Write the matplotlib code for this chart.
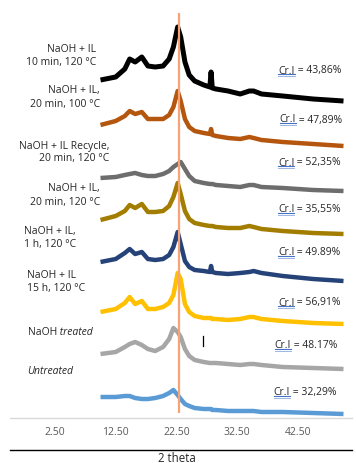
import matplotlib
matplotlib.use("Agg")
import numpy as np
import matplotlib.pyplot as plt
from matplotlib.lines import Line2D

plt.rcParams['font.family'] = ['Open Sans', 'DejaVu Sans']

# 2 theta grid shared by all patterns
two_theta = [10, 12.5, 14, 14.8, 15.7, 16.8, 17.8, 19, 20.3, 21.3, 22, 22.7, 23.2, 23.9,
             24.6, 25.5, 27, 28.0, 28.2, 28.4, 29, 31, 33, 34.5, 35.2, 36.5, 40, 45, 50]

# stacked intensities (a.u., already offset)
naoh_il_10min_120 = [338, 341, 349, 359, 356, 361, 352, 351, 352, 359, 371, 391, 381, 356,
                     343, 337, 333, 331, 346, 330, 329, 327, 324, 327, 327, 324, 322, 319, 317]
naoh_il_20min_100 = [293, 297, 302, 307, 304, 306, 299, 299, 299, 303, 311, 327, 317, 299,
                     291, 287, 285, 284, 289, 283, 282, 280, 279, 281, 280, 278, 276, 274, 272]
naoh_il_recycle = [240, 241, 243, 244, 245, 243, 242, 242, 244, 247, 251, 254, 256, 249,
                   242, 237, 235, 234, 234, 234, 233, 232, 231, 233, 233, 231, 230, 228, 227]
naoh_il_20min_120 = [198, 202, 207, 213, 210, 214, 206, 206, 207, 212, 221, 235, 224, 207,
                     199, 195, 193, 192, 192, 192, 191, 190, 190, 192, 191, 189, 187, 185, 184]
naoh_il_1h_120 = [156, 159, 165, 169, 164, 166, 159, 158, 159, 163, 171, 186, 174, 157,
                  151, 148, 147, 146, 152, 146, 145, 144, 145, 146, 147, 145, 142, 139, 137]
naoh_il_15h_120 = [106, 109, 115, 121, 114, 117, 109, 109, 111, 115, 123, 145, 139, 114,
                   106, 102, 100, 100, 100, 99, 99, 98, 99, 101, 101, 99, 97, 95, 94]
naoh_treated = [64, 66, 71, 74, 76, 73, 69, 67, 71, 79, 90, 86, 81, 69,
                62, 58, 56, 55, 55, 55, 55, 54, 53, 54, 54, 53, 51, 50, 49]
untreated = [21, 21, 22, 22, 20, 19, 19, 20, 22, 25, 28, 23, 19, 14,
             12, 10, 9, 9, 9, 8, 8, 7, 7, 7, 7, 6, 6, 5, 4]

series = [naoh_il_10min_120, naoh_il_20min_100, naoh_il_recycle, naoh_il_20min_120,
          naoh_il_1h_120, naoh_il_15h_120, naoh_treated, untreated]
colors = ['#000000', '#b5560f', '#6d6d6d', '#a27d00', '#254378', '#ffc000', '#a6a6a6', '#5b9bd5']
crystallinity = ['43,86%', '47,89%', '52,35%', '35,55%', '49.89%', '56,91%', '48.17%', '32,29%']

peak_2theta = 22.9
tick_values = [2.5, 12.5, 22.5, 32.5, 42.5]
tick_labels = ['2.50', '12.50', '22.50', '32.50', '42.50']

fs = 7.5

fig = plt.figure(figsize=(3.56, 4.64), dpi=100)
ax = fig.add_axes([10 / 356, 45 / 464, 342 / 356, 419 / 464])

for ys, c in zip(series, colors):
    ax.plot(two_theta, ys, color=c, lw=3.6 if c == '#000000' else 3.2,
            solid_joinstyle='round', solid_capstyle='butt')

ax.vlines(peak_2theta, 5, 405, color='#f5a377', lw=1.6, zorder=5)
ax.plot([26.9, 26.9], [72, 82], color='black', lw=0.9)

ax.set_xlim(-4.9, 51.4)
ax.set_ylim(0, 419)
ax.set_xticks(tick_values)
ax.set_xticklabels(tick_labels, fontsize=fs, color='#595959')
ax.tick_params(axis='x', length=0, pad=6)
ax.set_yticks([])
for s in ['top', 'right', 'left']:
    ax.spines[s].set_visible(False)
ax.spines['bottom'].set_color('#d9d9d9')
ax.spines['bottom'].set_linewidth(1.0)

lab = dict(fontsize=fs, color='#262626', va='center', linespacing=1.25)
ax.text(9.25, 363, 'NaOH + IL\n10 min, 120 \u00b0C', ha='right', multialignment='right', **lab)
ax.text(9.9, 321.5, 'NaOH + IL,\n20 min, 100 \u00b0C', ha='right', multialignment='right', **lab)
ax.text(11.4, 266.5, 'NaOH + IL Recycle,\n20 min, 120 \u00b0C', ha='right', multialignment='right', **lab)
ax.text(9.9, 223.5, 'NaOH + IL,\n20 min, 120 \u00b0C', ha='right', multialignment='right', **lab)
ax.text(-2.6, 181, 'NaOH + IL,\n1 h, 120 \u00b0C', ha='left', **lab)
ax.text(-2.1, 137, 'NaOH + IL\n15 h, 120 \u00b0C', ha='left', **lab)
t_naoh = ax.text(-1.9, 86.5, 'NaOH', ha='left', **lab)
ax.annotate(' treated', xy=(1, 0.5), xycoords=t_naoh, ha='left', va='center',
            fontsize=fs, color='#262626', style='italic')
ax.text(-2.1, 47, 'Untreated', ha='left', style='italic', **lab)

# crystallinity index labels
cr_pos = [(39.3, 348), (39.5, 299), (39.2, 256), (39.2, 209),
          (39.2, 166), (39.2, 116), (38.7, 73), (38.5, 26)]
cr_texts = []
for (x, y), val in zip(cr_pos, crystallinity):
    t = ax.text(x, y, 'Cr.I', ha='left', va='center', fontsize=fs, color='#262626')
    ax.annotate(' = ' + val, xy=(1, 0.5), xycoords=t, ha='left', va='center',
                fontsize=fs, color='#262626')
    cr_texts.append(t)

fig.text(177 / 356, 5 / 464, '2 theta', ha='center', va='center', fontsize=8.3, color='#262626')
fig.add_artist(Line2D([10 / 356, 352 / 356], [13 / 464, 13 / 464], color='black', lw=1.0))

# blue underline beneath each "Cr.I"
fig.canvas.draw()
inv = fig.transFigure.inverted()
for t in cr_texts:
    bb = t.get_window_extent()
    (x0, y0), (x1, y1) = inv.transform([(bb.x0, bb.y0 + 1.5), (bb.x1, bb.y0 + 1.5)])
    fig.add_artist(Line2D([x0, x1], [y0, y1], color='#4472c4', lw=0.8))
    (x0, y0), (x1, y1) = inv.transform([(bb.x0, bb.y0 - 0.2), (bb.x1, bb.y0 - 0.2)])
    fig.add_artist(Line2D([x0, x1], [y0, y1], color='#8faadc', lw=0.6))

fig.savefig('out.png', dpi=100)
